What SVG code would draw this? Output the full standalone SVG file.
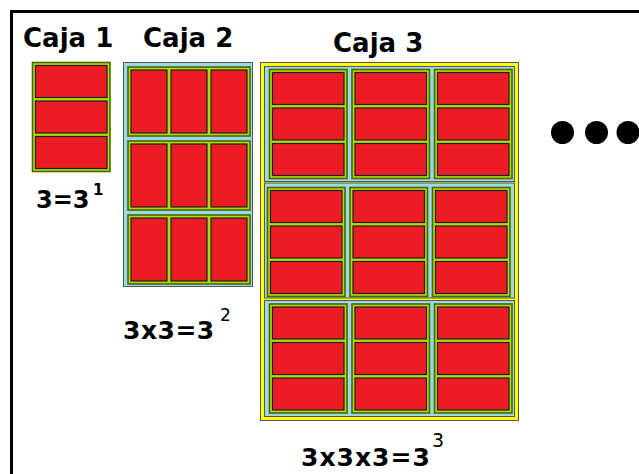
<svg xmlns="http://www.w3.org/2000/svg" xmlns:xlink="http://www.w3.org/1999/xlink" width="639" height="474" viewBox="0 0 639 474">
<style>
.frame{fill:none;stroke:#000;stroke-width:3}
.brick{fill:#ed1c24;stroke:#1e1e1e;stroke-width:1.2}
.lime{fill:#acdc0a;stroke:#4f6400;stroke-width:1.6}
.blue{fill:#99d9ea;stroke:#555;stroke-width:1}
.yellow{fill:#ffff00;stroke:#555;stroke-width:1}
.title{font-family:"DejaVu Sans","Liberation Sans",sans-serif;font-weight:bold;font-size:26px;fill:#000}
.eq{font-family:"DejaVu Sans","Liberation Sans",sans-serif;font-weight:bold;fill:#000}
.sup{font-family:"DejaVu Sans","Liberation Sans",sans-serif;font-weight:normal;fill:#000}
.dot{fill:#000}
</style>
<defs>
<g id="trioV">
<rect class="lime" x="0" y="0" width="77.5" height="109"/>
<rect class="brick" x="3" y="3" width="71.5" height="32"/>
<rect class="brick" x="3" y="38.5" width="71.5" height="32"/>
<rect class="brick" x="3" y="74" width="71.5" height="32"/>
</g>
<g id="trioH">
<rect class="lime" x="0" y="0" width="122" height="69"/>
<rect class="brick" x="3" y="3" width="36" height="63"/>
<rect class="brick" x="43" y="3" width="36" height="63"/>
<rect class="brick" x="83" y="3" width="36" height="63"/>
</g>
</defs>
<rect x="0" y="0" width="639" height="474" fill="#fff"/>
<rect class="frame" x="11.5" y="11.5" width="700" height="500"/>

<g id="caja1">
<text class="title" x="23" y="47">Caja 1</text>
<use href="#trioV" xlink:href="#trioV" x="32.5" y="62.5"/>
<text class="eq" x="36" y="208" font-size="24">3=3</text>
<text class="eq" x="93" y="195" font-size="15">1</text>
</g>

<g id="caja2">
<text class="title" x="143" y="47">Caja 2</text>
<rect class="blue" x="123.5" y="62.5" width="129" height="224"/>
<use href="#trioH" xlink:href="#trioH" x="128" y="67"/>
<use href="#trioH" xlink:href="#trioH" x="128" y="141"/>
<use href="#trioH" xlink:href="#trioH" x="128" y="215"/>
<text class="eq" x="123" y="339" font-size="25" letter-spacing="0.5">3x3=3</text>
<text class="sup" x="220" y="321" font-size="17">2</text>
</g>

<g id="caja3">
<text class="title" x="333" y="52">Caja 3</text>
<rect class="yellow" x="260.5" y="62.5" width="258" height="358"/>
<rect class="blue" x="264.5" y="66.5" width="250" height="115"/>
<rect class="blue" x="264.5" y="183" width="250" height="115"/>
<rect class="blue" x="264.5" y="300.5" width="250" height="116"/>
<use href="#trioV" xlink:href="#trioV" x="269.5" y="69.5"/>
<use href="#trioV" xlink:href="#trioV" x="352" y="69.5"/>
<use href="#trioV" xlink:href="#trioV" x="434.5" y="69.5"/>
<use href="#trioV" xlink:href="#trioV" x="267.5" y="187.5"/>
<use href="#trioV" xlink:href="#trioV" x="350" y="187.5"/>
<use href="#trioV" xlink:href="#trioV" x="432.5" y="187.5"/>
<use href="#trioV" xlink:href="#trioV" x="269.5" y="304"/>
<use href="#trioV" xlink:href="#trioV" x="352" y="304"/>
<use href="#trioV" xlink:href="#trioV" x="434.5" y="304"/>
<text class="eq" x="301" y="466" font-size="25" letter-spacing="1">3x3x3=3</text>
<text class="sup" x="432" y="446.5" font-size="19">3</text>
</g>

<g id="ellipsis">
<circle class="dot" cx="562.5" cy="132.5" r="11.5"/>
<circle class="dot" cx="596.5" cy="132.5" r="11.5"/>
<circle class="dot" cx="628" cy="132.5" r="11.5"/>
</g>
</svg>
